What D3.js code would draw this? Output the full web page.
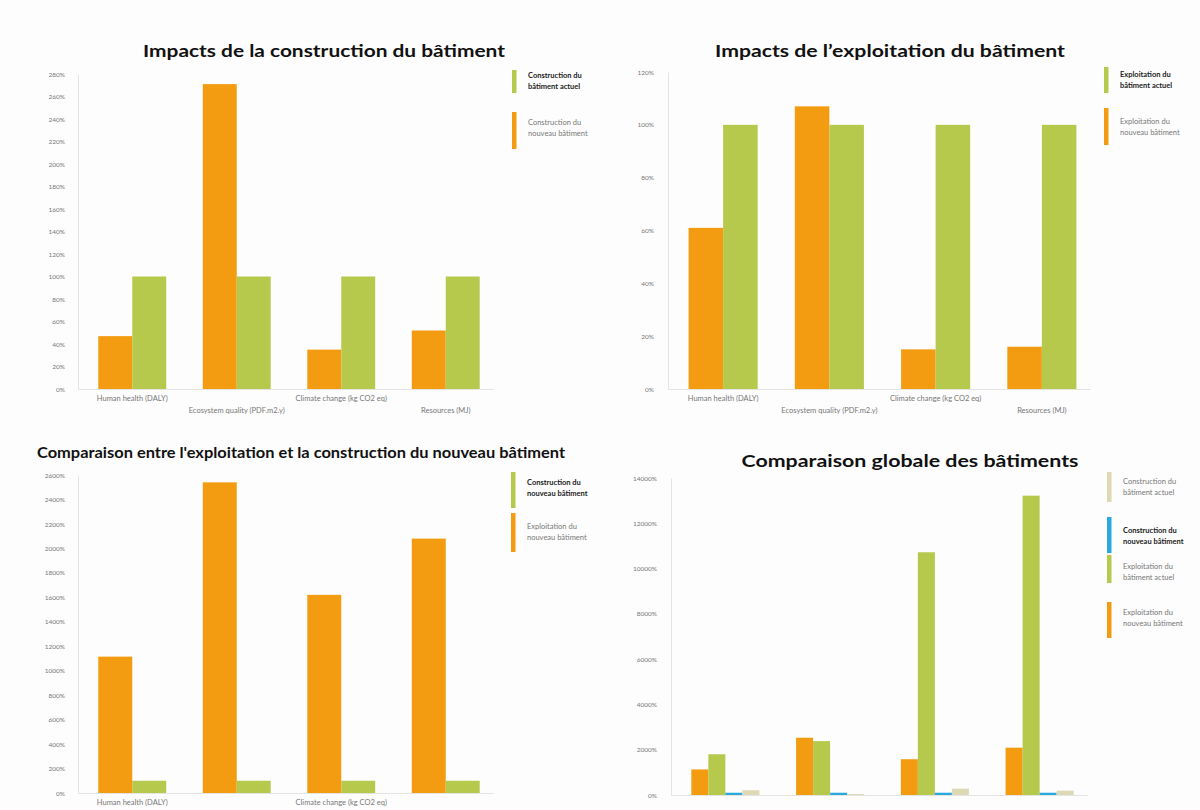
<!DOCTYPE html>
<html>
<head>
<meta charset="utf-8">
<script src="https://cdn.jsdelivr.net/npm/d3@7"></script>
<style>
  html, body { margin: 0; padding: 0; background: #fdfdfd; }
  svg { display: block; font-family: Lato, "Open Sans", sans-serif; }
</style>
</head>
<body>
<div id="chart"></div>
<script>
// categories (x axis)
var categories = ["Human health (DALY)", "Ecosystem quality (PDF.m2.y)", "Climate change (kg CO2 eq)", "Resources (MJ)"];

// panel 1 : construction
var constrNouveau1 = [47, 271, 35, 52];
var constrActuel1 = [100, 100, 100, 100];
var ticks1 = [0, 20, 40, 60, 80, 100, 120, 140, 160, 180, 200, 220, 240, 260, 280];

// panel 2 : exploitation
var exploitNouveau2 = [61, 107, 15, 16];
var exploitActuel2 = [100, 100, 100, 100];
var ticks2 = [0, 20, 40, 60, 80, 100, 120];

// panel 3 : exploitation vs construction (nouveau)
var exploitNouveau3 = [1115, 2540, 1620, 2080];
var constrNouveau3 = [100, 100, 100, 100];
var ticks3 = [0, 200, 400, 600, 800, 1000, 1200, 1400, 1600, 1800, 2000, 2200, 2400, 2600];

// panel 4 : global
var exploitNouveau4 = [1130, 2530, 1580, 2090];
var exploitActuel4 = [1800, 2380, 10720, 13220];
var constrNouveau4 = [100, 100, 100, 100];
var constrActuel4 = [210, 40, 280, 190];
var ticks4 = [0, 2000, 4000, 6000, 8000, 10000, 12000, 14000];

var titles = [
    "Impacts de la construction du bâtiment",
    "Impacts de l\u2019exploitation du bâtiment",
    "Comparaison entre l'exploitation et la construction du nouveau bâtiment",
    "Comparaison globale des bâtiments"
];

var colors = {
    orange: "#f39c12",
    green: "#b6c94c",
    blue: "#2aa8e0",
    tan: "#ddd9b4"
};

var H = 810;

var svg = d3.select("#chart").append("svg")
    .attr("width", 1200)
    .attr("height", H);

function drawPanel (cfg) {
    var g = svg.append("g"),
        x0 = d3.scaleBand()
            .domain(categories)
            .range(cfg.xr)
            .paddingInner(0.35)
            .paddingOuter(0.175),
        x1 = d3.scaleBand()
            .domain(d3.range(cfg.series.length))
            .range([0, x0.bandwidth()]),
        y = d3.scaleLinear()
            .domain([0, cfg.ticks[cfg.ticks.length - 1]])
            .range(cfg.yr);

    // title
    g.append("text")
        .attr("x", cfg.title.x)
        .attr("y", cfg.title.y)
        .attr("text-anchor", "middle")
        .attr("font-size", cfg.title.size)
        .attr("font-weight", "bold")
        .attr("fill", "#111")
        .attr("textLength", cfg.title.w)
        .attr("lengthAdjust", "spacingAndGlyphs")
        .text(cfg.title.text);

    // y axis
    var yAxis = d3.axisLeft(y)
        .tickValues(cfg.ticks)
        .tickSize(0)
        .tickPadding(cfg.tickPad)
        .tickFormat(function (d) { return d + "%"; });
    var ya = g.append("g")
        .attr("transform", "translate(" + (cfg.xr[0] - 2) + ",0)")
        .call(yAxis);
    ya.select(".domain").attr("stroke", "#e4e4e4");
    ya.selectAll("text")
        .attr("font-size", 6.5)
        .attr("fill", "#777")
        .attr("font-family", "Lato, sans-serif");

    // x axis line
    g.append("line")
        .attr("x1", cfg.xr[0] - 2)
        .attr("x2", cfg.xr[1] - 4)
        .attr("y1", y(0) + 0.5)
        .attr("y2", y(0) + 0.5)
        .attr("stroke", "#e4e4e4");

    // bars
    cfg.series.forEach(function (s, si) {
        g.append("g").selectAll("rect")
            .data(s.values)
            .enter().append("rect")
            .attr("x", function (d, i) { return x0(categories[i]) + x1(si); })
            .attr("width", x1.bandwidth())
            .attr("y", function (d) { return y(d); })
            .attr("height", function (d) { return y(0) - y(d); })
            .attr("fill", s.color);
    });

    // staggered category labels (second row falls below the picture in the lower panels)
    var labelY = function (i) { return y(0) + (i % 2 ? 24 : 12); };
    g.append("g").selectAll("text")
        .data(categories.filter(function (d, i) { return labelY(i) < H - 4; }))
        .enter().append("text")
        .attr("x", function (d) { return x0(d) + x0.bandwidth() / 2; })
        .attr("y", function (d) { return labelY(categories.indexOf(d)); })
        .attr("text-anchor", "middle")
        .attr("font-size", 7.5)
        .attr("fill", "#777")
        .text(function (d) { return d; });

    // legend
    cfg.legend.forEach(function (l) {
        g.append("rect")
            .attr("x", cfg.legX)
            .attr("y", l.y0)
            .attr("width", 4.5)
            .attr("height", l.y1 - l.y0)
            .attr("fill", l.color);
        l.lines.forEach(function (t, k) {
            g.append("text")
                .attr("x", cfg.legX + 16)
                .attr("y", l.ty + k * 11.5)
                .attr("font-size", 7.5)
                .attr("font-weight", l.bold ? "bold" : "normal")
                .attr("fill", l.bold ? "#222" : "#777")
                .attr("dominant-baseline", "middle")
                .text(t);
        });
    });
}

drawPanel({
    xr: [80, 498], yr: [389, 74], ticks: ticks1, tickPad: 13,
    title: {text: titles[0], x: 324, y: 57, size: 17, w: 362},
    series: [
        {values: constrNouveau1, color: colors.orange},
        {values: constrActuel1, color: colors.green}
    ],
    legX: 512,
    legend: [
        {color: colors.green, y0: 70, y1: 93, ty: 76, bold: true, lines: ["Construction du", "bâtiment actuel"]},
        {color: colors.orange, y0: 112, y1: 149, ty: 123, bold: false, lines: ["Construction du", "nouveau bâtiment"]}
    ]
});

drawPanel({
    xr: [670, 1095], yr: [389, 72], ticks: ticks2, tickPad: 14,
    title: {text: titles[1], x: 890, y: 57, size: 17, w: 350},
    series: [
        {values: exploitNouveau2, color: colors.orange},
        {values: exploitActuel2, color: colors.green}
    ],
    legX: 1104,
    legend: [
        {color: colors.green, y0: 67, y1: 93, ty: 75, bold: true, lines: ["Exploitation du", "bâtiment actuel"]},
        {color: colors.orange, y0: 108, y1: 145, ty: 122, bold: false, lines: ["Exploitation du", "nouveau bâtiment"]}
    ]
});

drawPanel({
    xr: [80, 498], yr: [793, 475], ticks: ticks3, tickPad: 13,
    title: {text: titles[2], x: 301, y: 458, size: 14.5, w: 528},
    series: [
        {values: exploitNouveau3, color: colors.orange},
        {values: constrNouveau3, color: colors.green}
    ],
    legX: 511,
    legend: [
        {color: colors.green, y0: 472, y1: 508, ty: 483, bold: true, lines: ["Construction du", "nouveau bâtiment"]},
        {color: colors.orange, y0: 513, y1: 552, ty: 527, bold: false, lines: ["Exploitation du", "nouveau bâtiment"]}
    ]
});

drawPanel({
    xr: [673, 1092], yr: [795, 478], ticks: ticks4, tickPad: 14,
    title: {text: titles[3], x: 910, y: 467, size: 17, w: 337},
    series: [
        {values: exploitNouveau4, color: colors.orange},
        {values: exploitActuel4, color: colors.green},
        {values: constrNouveau4, color: colors.blue},
        {values: constrActuel4, color: colors.tan}
    ],
    legX: 1107,
    legend: [
        {color: colors.tan, y0: 472, y1: 502, ty: 482, bold: false, lines: ["Construction du", "bâtiment actuel"]},
        {color: colors.blue, y0: 517, y1: 553, ty: 531, bold: true, lines: ["Construction du", "nouveau bâtiment"]},
        {color: colors.green, y0: 555, y1: 583, ty: 567, bold: false, lines: ["Exploitation du", "bâtiment actuel"]},
        {color: colors.orange, y0: 602, y1: 638, ty: 613, bold: false, lines: ["Exploitation du", "nouveau bâtiment"]}
    ]
});
</script>
</body>
</html>
